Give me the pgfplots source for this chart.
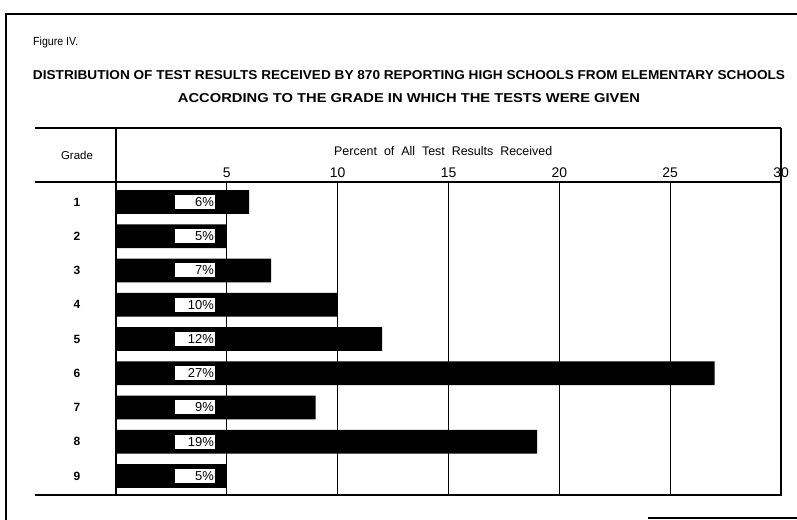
\documentclass[border=0pt]{standalone}
\usepackage{pgfplots}
\pgfplotsset{compat=1.18}
\usepackage{pgfplotstable}
\usepackage{fontspec}
\setmainfont{Liberation Sans}

\pgfplotstableread{
grade pct
1 6
2 5
3 7
4 10
5 12
6 27
7 9
8 19
9 5
}\gradedata

\begin{document}
\begin{tikzpicture}[x=1bp,y=1bp]
\path[use as bounding box] (0,0) rectangle (797,520);
% page frame
\draw[line width=1.4bp] (5,506) -- (797,506);
\draw[line width=1.4bp] (6,506) -- (6,0);
\draw[line width=1.2bp] (648,2) -- (797,2);
% table frame round the axis
\draw[line width=1.8bp] (35,392) -- (781,392);
\draw[line width=1.4bp] (35,338) -- (116,338);
\draw[line width=1.4bp] (35,25) -- (116,25);
\draw[line width=1.4bp] (116,392) -- (116,338);
\draw[line width=1.4bp] (781,392) -- (781,338);
% titles
\node[anchor=base west, inner sep=0] at (33,474) {\resizebox{45bp}{8.5bp}{Figure IV.}};
\node[anchor=base, inner sep=0] at (409,440) {\resizebox{752bp}{9bp}{\bfseries DISTRIBUTION OF TEST RESULTS RECEIVED BY 870 REPORTING HIGH SCHOOLS FROM ELEMENTARY SCHOOLS}};
\node[anchor=base, inner sep=0] at (409,417) {\resizebox{462bp}{9bp}{\bfseries ACCORDING TO THE GRADE IN WHICH THE TESTS WERE GIVEN}};
\node at (77,365) {\fontsize{11.5}{13}\selectfont Grade};

\begin{axis}[
  at={(116bp,25bp)}, anchor=south west,
  scale only axis, width=665bp, height=313bp,
  xmin=0, xmax=30, ymin=0.416, ymax=9.555,
  y dir=reverse,
  axis line style={line width=1.4bp},
  major tick length=0,
  xtick={5,10,15,20,25,30},
  xticklabel pos=upper,
  xmajorgrids,
  grid style={black, line width=1bp},
  ytick={1,2,3,4,5,6,7,8,9},
  /pgf/number format/assume math mode=true,
  xticklabel style={font=\fontsize{14}{15}\selectfont, anchor=south, yshift=1bp},
  yticklabel style={font=\bfseries\fontsize{12}{13}\selectfont, anchor=center, xshift=-39bp},
  xlabel={Percent\ \ of\ \ All\ \ Test\ \ Results\ \ Received},
  xlabel style={font=\fontsize{12.5}{14}\selectfont, at={(axis description cs:0.492,1)}, anchor=base, yshift=26bp},
]
\addplot[xbar, bar width=0.7, fill=black, draw=none] table[x=pct, y=grade] {\gradedata};
\addplot[draw=none, mark=none, point meta=explicit,
  nodes near coords={\pgfmathprintnumber{\pgfplotspointmeta}\%},
  nodes near coords style={anchor=center, fill=white, inner sep=1.5bp, text width=37bp, align=right,
    minimum height=14bp, font=\fontsize{13}{14}\selectfont}]
  table[x expr=3.58, y=grade, meta=pct] {\gradedata};
\end{axis}
\end{tikzpicture}
\end{document}
